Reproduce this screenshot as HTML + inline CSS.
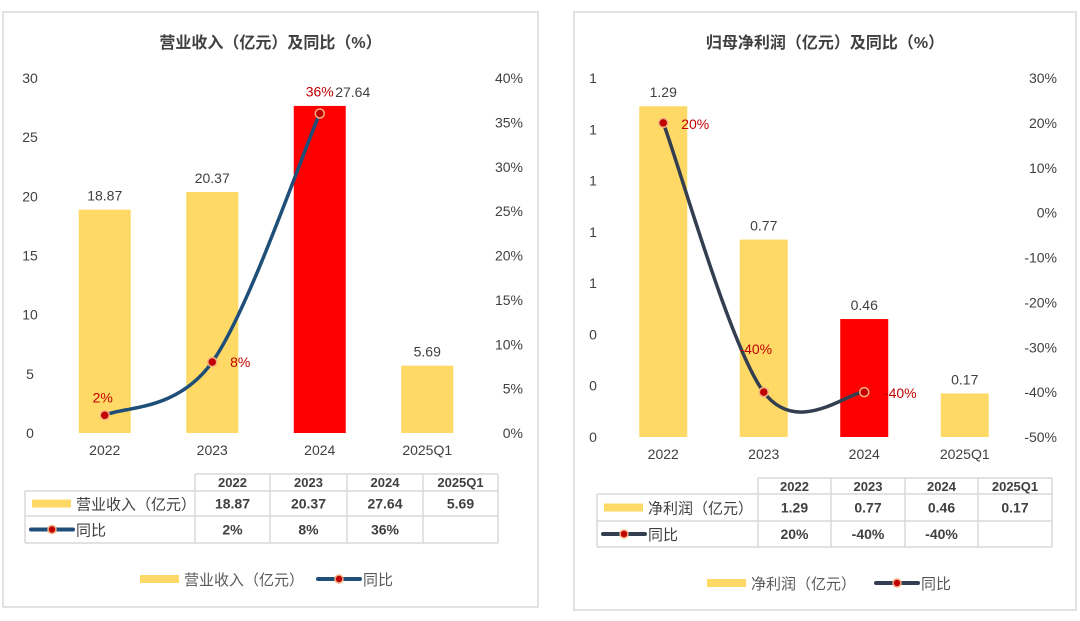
<!DOCTYPE html>
<html><head><meta charset="utf-8">
<style>
body{margin:0;background:#fff;width:1080px;height:621px;overflow:hidden;font-family:"Liberation Sans","Noto Sans CJK SC",sans-serif}
svg{position:absolute;left:0;top:0}
text{font-family:"Liberation Sans","Noto Sans CJK SC",sans-serif}
</style></head><body>
<svg id="s" width="1080" height="621"></svg>
<script>
const catsL=["2022","2023","2024","2025Q1"];
const revL=[18.87,20.37,27.64,5.69];
const yoyL=[2,8,36,null];
const yoyLLabels=["2%","8%","36%",""];
const leftTicksL=[0,5,10,15,20,25,30];
const rightTicksL=[0,5,10,15,20,25,30,35,40];

const catsR=["2022","2023","2024","2025Q1"];
const profR=[1.29,0.77,0.46,0.17];
const yoyR=[20,-40,-40,null];
const yoyRLabels=["20%","-40%","-40%",""];
const leftTicksR=[0,0.2,0.4,0.6,0.8,1.0,1.2,1.4];
const rightTicksR=[-50,-40,-30,-20,-10,0,10,20,30];

const NS="http://www.w3.org/2000/svg";
const S=document.getElementById('s');
function el(t,a,txt,p){const e=document.createElementNS(NS,t);for(const k in a)e.setAttribute(k,a[k]);if(txt!=null)e.textContent=txt;(p||S).appendChild(e);return e;}
function smooth(pts){let d="M"+pts[0][0]+","+pts[0][1];for(let i=0;i<pts.length-1;i++){const p0=pts[i-1]||pts[i],p1=pts[i],p2=pts[i+1],p3=pts[i+2]||p2;const c1=[p1[0]+(p2[0]-p0[0])/6,p1[1]+(p2[1]-p0[1])/6],c2=[p2[0]-(p3[0]-p1[0])/6,p2[1]-(p3[1]-p1[1])/6];d+=" C"+c1+" "+c2+" "+p2;}return d;}

function panel(o){
  const r=el('rect',{x:o.bx,y:o.by,width:o.bw,height:o.bh,fill:'#fff',stroke:'#d9d9d9','stroke-width':1.5});
  
  const t=el('text',{x:o.bx+o.bw/2,y:48,'text-anchor':'middle','font-size':16,'font-weight':'bold',fill:'#404040'},o.title);
  
  const yL=v=>o.y0-(v-o.lmin)/(o.lmax-o.lmin)*(o.y0-o.y1);
  const yR=v=>o.y0-(v-o.rmin)/(o.rmax-o.rmin)*(o.y0-o.y1);
  const xC=i=>o.x0+(i+0.5)*o.cw;
  o.lt.forEach(v=>{const e=el('text',{x:o.lx,y:yL(v)+5,'text-anchor':'middle','font-size':14,fill:'#404040'},o.lfmt(v));});
  o.rt.forEach(v=>{const e=el('text',{x:o.rx,y:yR(v)+5,'text-anchor':'end','font-size':14,fill:'#404040'},v+'%');});
  o.cats.forEach((c,i)=>{
    const h=o.vals[i];const b=el('rect',{x:xC(i)-o.bwid/2,y:yL(h),width:o.bwid,height:o.y0-yL(h),fill:i==2?'#ff0000':'#ffd966'});
    
    const l=el('text',{x:xC(i),y:yL(h)-9,'text-anchor':'middle','font-size':14,fill:'#404040'},h.toFixed(2));
    if(i==2&&o.id=='revenue'){l.setAttribute('x',xC(i)+33);}
    
    const x=el('text',{x:xC(i),y:o.y0+22,'text-anchor':'middle','font-size':14,fill:'#404040'},c);
    
  });
  const pts=[];o.yoy.forEach((v,i)=>{if(v!=null)pts.push([xC(i),yR(v)]);});
  const ln=el('path',{d:smooth(pts),fill:'none',stroke:o.lc,'stroke-width':3.5});
  
  pts.forEach((p,i)=>{
    const m=el('circle',{cx:p[0],cy:p[1],r:4.5,fill:'#c00000',stroke:'#f4b183','stroke-width':1.5});
    
    const off=o.loff[i];
    const t=el('text',{x:p[0]+off[0],y:p[1]+off[1],'text-anchor':'middle','font-size':14,fill:'#c00000'},o.ylab[i]);
    
  });
  const c=o.tcols,r2=o.trows,g='#d9d9d9';
  el('line',{x1:c[0],y1:r2[0],x2:c[4],y2:r2[0],stroke:g,'stroke-width':1.5});
  for(let k=1;k<4;k++)el('line',{x1:o.tx,y1:r2[k],x2:c[4],y2:r2[k],stroke:g,'stroke-width':1.5});
  el('line',{x1:o.tx,y1:r2[1],x2:o.tx,y2:r2[3],stroke:g,'stroke-width':1.5});
  c.forEach(x=>el('line',{x1:x,y1:r2[0],x2:x,y2:r2[3],stroke:g,'stroke-width':1.5}));
  o.cats.forEach((cat,i)=>{
    const cx=(c[i]+c[i+1])/2;
    const a=el('text',{x:cx,y:r2[0]+13,'text-anchor':'middle','font-size':13,'font-weight':'bold',fill:'#404040'},cat);
    
    const b=el('text',{x:cx,y:(r2[1]+r2[2])/2+5,'text-anchor':'middle','font-size':14,'font-weight':'bold',fill:'#404040'},o.vals[i].toFixed(2));
    
    const d=el('text',{x:cx,y:(r2[2]+r2[3])/2+5,'text-anchor':'middle','font-size':14,'font-weight':'bold',fill:'#404040'},o.ylab[i]);
    
  });
  const m1=(r2[1]+r2[2])/2,m2=(r2[2]+r2[3])/2;
  el('rect',{x:o.tx+7,y:m1-4,width:39,height:8,fill:'#ffd966'});
  el('text',{x:o.tx+51,y:m1+6,'font-size':15,fill:'#404040'},o.sname);
  el('line',{x1:o.tx+6,y1:m2,x2:o.tx+48,y2:m2,stroke:o.lc,'stroke-width':4,'stroke-linecap':'round'});
  el('circle',{cx:o.tx+27,cy:m2,r:4,fill:'#c00000',stroke:'#f4b183','stroke-width':1.5});
  el('text',{x:o.tx+51,y:m2+6,'font-size':15,fill:'#404040'},'同比');
  const lg=el('g',{});
  el('rect',{x:o.lgx,y:o.lgy-4,width:39,height:8,fill:'#ffd966'},null,lg);
  el('text',{x:o.lgx+44,y:o.lgy+6,'font-size':15,fill:'#595959'},o.sname,lg);
  el('line',{x1:o.lgx2,y1:o.lgy,x2:o.lgx2+42,y2:o.lgy,stroke:o.lc,'stroke-width':4,'stroke-linecap':'round'},null,lg);
  el('circle',{cx:o.lgx2+21,cy:o.lgy,r:4,fill:'#c00000',stroke:'#f4b183','stroke-width':1.5},null,lg);
  el('text',{x:o.lgx2+45,y:o.lgy+6,'font-size':15,fill:'#595959'},'同比',lg);
}
panel({id:'revenue',bx:3,by:12,bw:535,bh:595,title:'营业收入（亿元）及同比（%）',
  y0:433,y1:78,lmin:0,lmax:30,rmin:0,rmax:40,x0:51,cw:107.5,bwid:52,lx:30,rx:523,
  lt:leftTicksL,rt:rightTicksL,lfmt:v=>String(v),cats:catsL,vals:revL,yoy:yoyL,ylab:yoyLLabels,lc:'#1f4e79',
  loff:[[-2,-13],[28,5],[0,-17]],tcols:[195,270,347,423,498],trows:[474,491,516,543],tx:25,sname:'营业收入（亿元）',
  lgx:140,lgy:579,lgx2:318});
panel({id:'profit',bx:574,by:12,bw:502,bh:598,title:'归母净利润（亿元）及同比（%）',
  y0:437,y1:78,lmin:0,lmax:1.4,rmin:-50,rmax:30,x0:613,cw:100.5,bwid:48,lx:593,rx:1057,
  lt:leftTicksR,rt:rightTicksR,lfmt:v=>String(Math.round(v)),cats:catsR,vals:profR,yoy:yoyR,ylab:yoyRLabels,lc:'#333f50',
  loff:[[32,6],[-8,-38],[36,6]],tcols:[758,831,905,978,1052],trows:[478,494,521,547],tx:597,sname:'净利润（亿元）',
  lgx:707,lgy:583,lgx2:876});
</script>
</body></html>
